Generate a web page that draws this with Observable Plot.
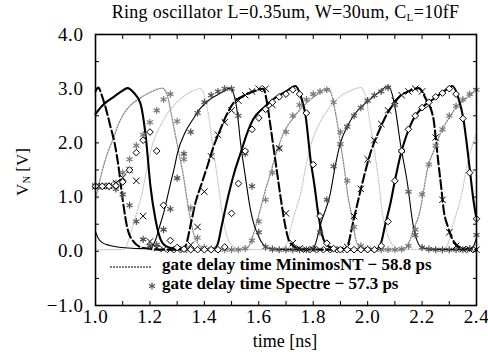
<!DOCTYPE html>
<html>
<head>
<meta charset="utf-8">
<script src="https://cdn.jsdelivr.net/npm/d3@7"></script>
<script src="https://cdn.jsdelivr.net/npm/@observablehq/plot@0.6"></script>
<style>
  body { margin: 0; background: #fff; }
  #wrap { position: relative; width: 488px; height: 362px; font-family: "Liberation Serif", "Times New Roman", serif; color: #000; }
  #chart svg text { font-family: "Liberation Serif", "Times New Roman", serif !important; letter-spacing: 0.6px; }
  .abs { position: absolute; white-space: nowrap; }
  sub { font-size: 0.62em; vertical-align: -0.25em; line-height: 0; }
  .leg { font-weight: bold; font-size: 17px; line-height: 17px; }
</style>
</head>
<body>
<div id="wrap">
  <div id="chart"></div>
  <div class="abs" style="left:95px;width:381px;top:2px;text-align:center;font-size:18px;line-height:20px;letter-spacing:0.3px;">Ring oscillator L=0.35um, W=30um, C<sub>L</sub>=10fF</div>
  <div class="abs" style="left:22px;top:172px;font-size:17px;line-height:17px;transform:translate(-50%,-50%) rotate(-90deg);">V<sub>N</sub> [V]</div>
  <div class="abs" style="left:285px;top:332px;font-size:18px;line-height:18px;transform:translateX(-50%);">time [ns]</div>
  <svg class="abs" style="left:108px;top:262px" width="46" height="10"><line x1="2" y1="5" x2="44" y2="5" stroke="#555" stroke-width="1.6" stroke-dasharray="2,1"/></svg>
  <svg class="abs" style="left:146px;top:280px" width="12" height="12"><g stroke="#555" stroke-width="1.2"><line x1="6" y1="2.5" x2="6" y2="9.5"/><line x1="3" y1="4.2" x2="9" y2="7.8"/><line x1="3" y1="7.8" x2="9" y2="4.2"/></g></svg>
  <div class="abs leg" style="left:162px;top:256px;">gate delay time MinimosNT − 58.8 ps</div>
  <div class="abs leg" style="left:162px;top:275px;">gate delay time Spectre − 57.3 ps</div>
</div>
<script>
// ---- axis ticks ----
const xTicks = [1.0,1.1,1.2,1.3,1.4,1.5,1.6,1.7,1.8,1.9,2.0,2.1,2.2,2.3,2.4];
const xLabels = [1.0,1.2,1.4,1.6,1.8,2.0,2.2,2.4];
const yTicks = [-1.0,-0.5,0.0,0.5,1.0,1.5,2.0,2.5,3.0,3.5,4.0];
const yLabels = [-1.0,0.0,1.0,2.0,3.0,4.0];

// ---- MinimosNT node waveforms (time ns, voltage V) ----
// node A: solid thick
const tA = [1.000,1.020,1.044,1.070,1.095,1.118,1.140,1.165,1.185,1.202,1.220,1.239,1.260,1.290,1.350,1.430,1.448,1.465,1.485,1.510,1.533,1.555,1.580,1.620,1.654,1.700,1.735,1.755,1.772,1.790,1.805,1.816,1.838,1.860,1.900,1.980,2.030,2.047,2.065,2.084,2.100,2.120,2.140,2.168,2.200,2.242,2.280,2.312,2.335,2.352,2.365,2.378,2.390,2.400];
const vA = [2.53,2.66,2.77,2.86,2.95,3.01,2.93,2.73,2.10,1.20,0.60,0.22,0.09,0.05,0.03,0.03,0.12,0.50,0.96,1.45,1.81,2.15,2.44,2.66,2.81,2.95,3.05,2.85,2.50,1.70,1.20,0.78,0.22,0.08,0.04,0.03,0.03,0.12,0.50,0.89,1.30,1.76,2.10,2.44,2.65,2.81,2.95,3.05,2.80,2.44,1.95,1.39,0.90,0.60];
// node D: dashed
const tD = [1.000,1.010,1.025,1.040,1.055,1.070,1.085,1.100,1.117,1.140,1.176,1.250,1.315,1.331,1.350,1.367,1.390,1.411,1.435,1.459,1.480,1.507,1.540,1.580,1.617,1.630,1.643,1.656,1.669,1.680,1.691,1.700,1.716,1.753,1.850,1.910,1.926,1.945,1.963,1.985,2.010,2.040,2.073,2.100,2.120,2.150,2.187,2.215,2.242,2.250,2.260,2.270,2.279,2.295,2.312,2.330,2.350,2.400];
const vD = [2.95,3.02,2.85,2.60,2.30,2.00,1.55,0.95,0.43,0.18,0.06,0.03,0.03,0.10,0.50,0.89,1.25,1.57,1.95,2.25,2.50,2.74,2.86,2.95,3.00,2.75,2.31,1.85,1.39,1.00,0.65,0.40,0.15,0.04,0.03,0.03,0.10,0.50,0.89,1.35,1.81,2.20,2.55,2.75,2.87,2.95,3.01,2.80,2.44,2.10,1.63,1.20,0.78,0.45,0.22,0.10,0.05,0.03];
// node C: solid thin
const tC = [1.000,1.010,1.025,1.050,1.080,1.120,1.170,1.200,1.210,1.220,1.235,1.250,1.276,1.290,1.301,1.330,1.360,1.386,1.420,1.460,1.496,1.508,1.520,1.533,1.550,1.569,1.582,1.595,1.610,1.632,1.700,1.785,1.801,1.830,1.863,1.880,1.900,1.925,1.948,1.980,2.010,2.040,2.076,2.090,2.102,2.120,2.146,2.168,2.180,2.194,2.230,2.370,2.385,2.400];
const vC = [0.36,0.24,0.16,0.11,0.08,0.06,0.05,0.06,0.10,0.20,0.45,0.70,1.26,1.55,1.81,2.20,2.45,2.64,2.80,2.92,3.01,2.90,2.60,2.00,1.40,0.78,0.50,0.33,0.17,0.06,0.03,0.03,0.06,0.55,1.07,1.55,2.00,2.30,2.50,2.68,2.81,2.93,3.05,2.90,2.62,2.00,1.26,0.46,0.22,0.09,0.04,0.03,0.06,0.25];
// node B: dotted gray
const tB = [1.000,1.018,1.040,1.066,1.085,1.103,1.130,1.165,1.200,1.246,1.262,1.287,1.305,1.323,1.335,1.349,1.362,1.375,1.400,1.500,1.550,1.569,1.585,1.599,1.620,1.643,1.665,1.691,1.725,1.764,1.810,1.855,1.867,1.882,1.900,1.915,1.926,1.944,1.955,1.970,2.000,2.130,2.146,2.170,2.194,2.205,2.220,2.245,2.268,2.300,2.330,2.370,2.400];
const vB = [0.95,1.35,1.75,2.09,2.35,2.53,2.70,2.83,2.93,3.01,2.90,2.31,1.85,1.39,1.00,0.59,0.30,0.15,0.05,0.03,0.04,0.15,0.40,0.65,1.05,1.44,1.82,2.18,2.45,2.68,2.88,3.00,2.90,2.55,2.00,1.50,1.07,0.59,0.25,0.08,0.04,0.03,0.10,0.42,0.78,1.10,1.52,1.88,2.18,2.47,2.68,2.85,2.98];
// node E: light dotted gray
const tE = [1.000,1.100,1.115,1.140,1.170,1.190,1.210,1.240,1.270,1.310,1.350,1.386,1.400,1.415,1.430,1.450,1.465,1.480,1.500,1.530,1.680,1.700,1.725,1.755,1.775,1.795,1.825,1.855,1.895,1.935,1.974,1.990,2.005,2.020,2.040,2.055,2.070,2.090,2.120,2.270,2.290,2.315,2.345,2.365,2.385,2.400];
const vE = [0.03,0.03,0.12,0.52,1.05,1.55,1.98,2.33,2.58,2.80,2.94,3.00,2.88,2.52,1.96,1.28,0.72,0.33,0.12,0.04,0.03,0.11,0.58,1.10,1.62,2.02,2.38,2.62,2.84,2.96,3.02,2.91,2.48,2.02,1.32,0.68,0.36,0.13,0.04,0.03,0.09,0.52,1.04,1.58,1.96,2.18];

// ---- Spectre samples (markers) ----
const tM = [1.000,1.025,1.050,1.075,1.100,1.125,1.150,1.175,1.200,1.225,1.250,1.275,1.300,1.325,1.350,1.375,1.400,1.425,1.450,1.475,1.500,1.525,1.550,1.575,1.600,1.625,1.650,1.675,1.700,1.725,1.750,1.775,1.800,1.825,1.850,1.875,1.900,1.925,1.950,1.975,2.000,2.025,2.050,2.075,2.100,2.125,2.150,2.175,2.200,2.225,2.250,2.275,2.300,2.325,2.350,2.375,2.400];
const mA = [1.20,1.20,1.20,1.21,1.28,1.50,1.82,2.05,2.20,1.85,0.85,0.20,0.07,0.04,0.03,0.03,0.03,0.03,0.03,0.08,0.70,1.25,1.85,2.25,2.46,2.62,2.75,2.85,2.90,2.98,2.90,2.55,1.60,0.65,0.15,0.05,0.03,0.03,0.03,0.03,0.03,0.03,0.10,0.55,1.30,1.85,2.25,2.50,2.65,2.75,2.85,2.92,3.00,2.90,2.45,1.45,0.60];
const mD = [1.20,1.20,1.21,1.26,1.36,1.50,1.30,0.65,0.18,0.06,0.04,0.03,0.03,0.03,0.12,0.45,1.10,1.75,2.15,2.38,2.60,2.78,2.88,2.95,3.00,3.00,2.70,1.90,0.70,0.15,0.05,0.03,0.03,0.03,0.03,0.03,0.03,0.08,0.65,1.15,1.70,2.05,2.35,2.60,2.78,2.88,2.95,3.00,2.95,2.70,2.10,0.95,0.35,0.10,0.04,0.03,0.03];
const mC = [1.20,1.20,1.19,1.15,1.05,0.85,0.55,0.22,0.10,0.12,0.40,0.78,1.35,1.80,2.20,2.55,2.75,2.88,2.95,3.00,3.00,2.50,1.80,1.20,0.35,0.08,0.04,0.03,0.03,0.03,0.03,0.03,0.05,0.35,0.95,1.57,1.98,2.30,2.50,2.65,2.78,2.88,2.95,3.02,2.70,1.85,1.10,0.30,0.07,0.04,0.03,0.03,0.03,0.03,0.03,0.05,0.30];
const mB = [1.20,1.20,1.21,1.26,1.45,1.70,1.95,2.15,2.38,2.60,2.80,2.90,2.40,1.70,0.80,0.25,0.07,0.04,0.03,0.03,0.03,0.03,0.05,0.20,0.55,0.95,1.45,1.90,2.20,2.50,2.70,2.80,2.90,2.95,2.98,2.75,2.20,1.30,0.45,0.10,0.05,0.03,0.03,0.03,0.03,0.04,0.10,0.40,1.05,1.60,1.95,2.25,2.50,2.68,2.80,2.90,2.98];

const fmt = d3.format(".1f");
const tickOpts = {tickSize: -4, tickFormat: () => "", label: null, stroke: "black"};

const chart = Plot.plot({
  width: 488,
  height: 362,
  marginLeft: 95,
  marginRight: 12,
  marginTop: 34,
  marginBottom: 57,
  style: {fontFamily: "'Liberation Serif', 'Times New Roman', serif", background: "white", color: "black", overflow: "visible"},
  x: {domain: [1.0, 2.4]},
  y: {domain: [-1.0, 4.0]},
  marks: [
    Plot.axisX(xTicks, {anchor: "bottom", ...tickOpts}),
    Plot.axisX(xTicks, {anchor: "top", ...tickOpts}),
    Plot.axisY(yTicks, {anchor: "left", ...tickOpts}),
    Plot.axisY(yTicks, {anchor: "right", ...tickOpts}),
    Plot.axisX(xLabels, {anchor: "bottom", tickSize: 0, tickPadding: 4, tickFormat: fmt, label: null, fontSize: 19}),
    Plot.axisY(yLabels, {anchor: "left", tickSize: 0, tickPadding: 12, tickFormat: fmt, label: null, fontSize: 19}),
    Plot.line(tE, {x: tE, y: vE, curve: "monotone-x", stroke: "#c8c8c8", strokeWidth: 1.2, strokeDasharray: "1.5,1.5"}),
    Plot.line(tB, {x: tB, y: vB, curve: "monotone-x", stroke: "#8a8a8a", strokeWidth: 1.3, strokeDasharray: "1.5,1.5"}),
    Plot.line(tC, {x: tC, y: vC, curve: "monotone-x", stroke: "black", strokeWidth: 1.1}),
    Plot.line(tD, {x: tD, y: vD, curve: "monotone-x", stroke: "black", strokeWidth: 2.1, strokeDasharray: "9,3.5"}),
    Plot.line(tA, {x: tA, y: vA, curve: "monotone-x", stroke: "black", strokeWidth: 2.1}),
    Plot.dot(tM, {x: tM, y: mB, symbol: "asterisk", r: 3.3, stroke: "#7a7a7a", strokeWidth: 1.2}),
    Plot.dot(tM, {x: tM, y: mC, symbol: "asterisk", r: 3.3, stroke: "#505050", strokeWidth: 1.2}),
    Plot.dot(tM, {x: tM, y: mD, symbol: "times", r: 3, stroke: "black", strokeWidth: 1}),
    Plot.dot(tM, {x: tM, y: mA, symbol: "diamond2", r: 3, stroke: "black", fill: "white", strokeWidth: 1}),
    Plot.frame({stroke: "black", strokeWidth: 1.6})
  ]
});
document.getElementById("chart").appendChild(chart);
</script>
</body>
</html>
